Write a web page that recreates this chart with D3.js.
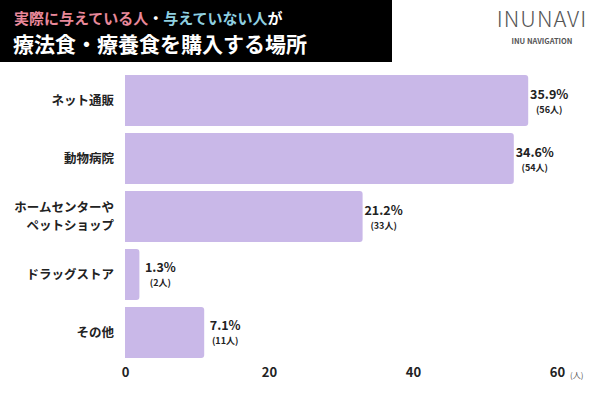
<!DOCTYPE html>
<html><head><meta charset="utf-8">
<script src="https://cdn.jsdelivr.net/npm/d3@7"></script>
<style>body{margin:0;background:#fff;}text{font-family:"Noto Sans CJK JP","Noto Sans",sans-serif;}</style>
</head><body><div id="chart"></div>
<script>
//Data;
const categories=["ネット通販","動物病院","ホームセンターや\nペットショップ","ドラッグストア","その他"];
const counts=[56,54,33,2,11];
const percents=["35.9%","34.6%","21.2%","1.3%","7.1%"];
const ticks=[0,20,40,60];

const w=600,h=400;
const svg=d3.select("#chart").append("svg").attr("width",w).attr("height",h);

//Title;
svg.append("rect").attr("x",0).attr("y",0).attr("width",392).attr("height",62).attr("fill","#000");
const t1=svg.append("text").attr("x",14).attr("y",24).attr("font-size",15).attr("font-weight",700);
t1.append("tspan").attr("fill","#e8889a").text("実際に与えている人");
t1.append("tspan").attr("fill","#fff").text("・");
t1.append("tspan").attr("fill","#8fd0e0").text("与えていない人");
t1.append("tspan").attr("fill","#fff").text("が");
svg.append("text").attr("x",13).attr("y",52).attr("font-size",21).attr("font-weight",700)
   .attr("fill","#fff").text("療法食・療養食を購入する場所");

//Logo;
svg.append("text").attr("x",542).attr("y",27).attr("text-anchor","middle").attr("font-size",22)
   .attr("font-family","Lato, sans-serif").attr("font-weight",300).attr("fill","#555").attr("letter-spacing",1).text("INUNAVI");
svg.append("text").attr("x",542).attr("y",44).attr("text-anchor","middle").attr("font-size",7.5)
   .attr("font-weight",700).attr("fill","#555").text("INU NAVIGATION");

//Scales;
const x=d3.scaleLinear().domain([0,60]).range([125,557]);
const y=d3.scaleBand().domain(categories).range([75,358]).paddingInner(0.12).paddingOuter(0);

//Bars;
svg.selectAll(".bar").data(categories).enter().append("path")
   .attr("class","bar").attr("fill","#c9b8e8")
   .attr("d",(d,i)=>{
     const x0=x(0),x1=x(counts[i]),y0=y(d),bh=y.bandwidth(),r=Math.min(3,(x1-x0)/2);
     return `M${x0},${y0}H${x1-r}Q${x1},${y0} ${x1},${y0+r}V${y0+bh-r}Q${x1},${y0+bh} ${x1-r},${y0+bh}H${x0}Z`;
   });

//Value labels;
categories.forEach((d,i)=>{
  const cx=x(counts[i])+21, cy=y(d)+y.bandwidth()/2;
  svg.append("text").attr("x",cx).attr("y",cy-2).attr("text-anchor","middle").attr("font-size",12.5)
     .attr("font-weight",700).attr("fill","#222").text(percents[i]);
  svg.append("text").attr("x",cx).attr("y",cy+12).attr("text-anchor","middle").attr("font-size",9)
     .attr("font-weight",700).attr("fill","#222").text("("+counts[i]+"人)");
});

//Category labels;
categories.forEach(d=>{
  const lines=d.split("\n"), cy=y(d)+y.bandwidth()/2;
  lines.forEach((l,j)=>{
    svg.append("text").attr("x",114).attr("y",cy+4.5+(j-(lines.length-1)/2)*18)
       .attr("text-anchor","end").attr("font-size",12.5).attr("font-weight",700).attr("fill","#222").text(l);
  });
});

//Axis;
const ax=svg.append("g").attr("transform","translate(0,368)")
   .call(d3.axisBottom(x).tickValues(ticks).tickSize(0).tickPadding(0));
ax.select(".domain").remove();
ax.selectAll("text").attr("font-size",13).attr("font-weight",700).attr("fill","#222")
  .attr("font-family","'Noto Sans CJK JP',sans-serif");
svg.append("text").attr("x",570).attr("y",378).attr("font-size",8).attr("fill","#555").text("(人)");
</script></body></html>
